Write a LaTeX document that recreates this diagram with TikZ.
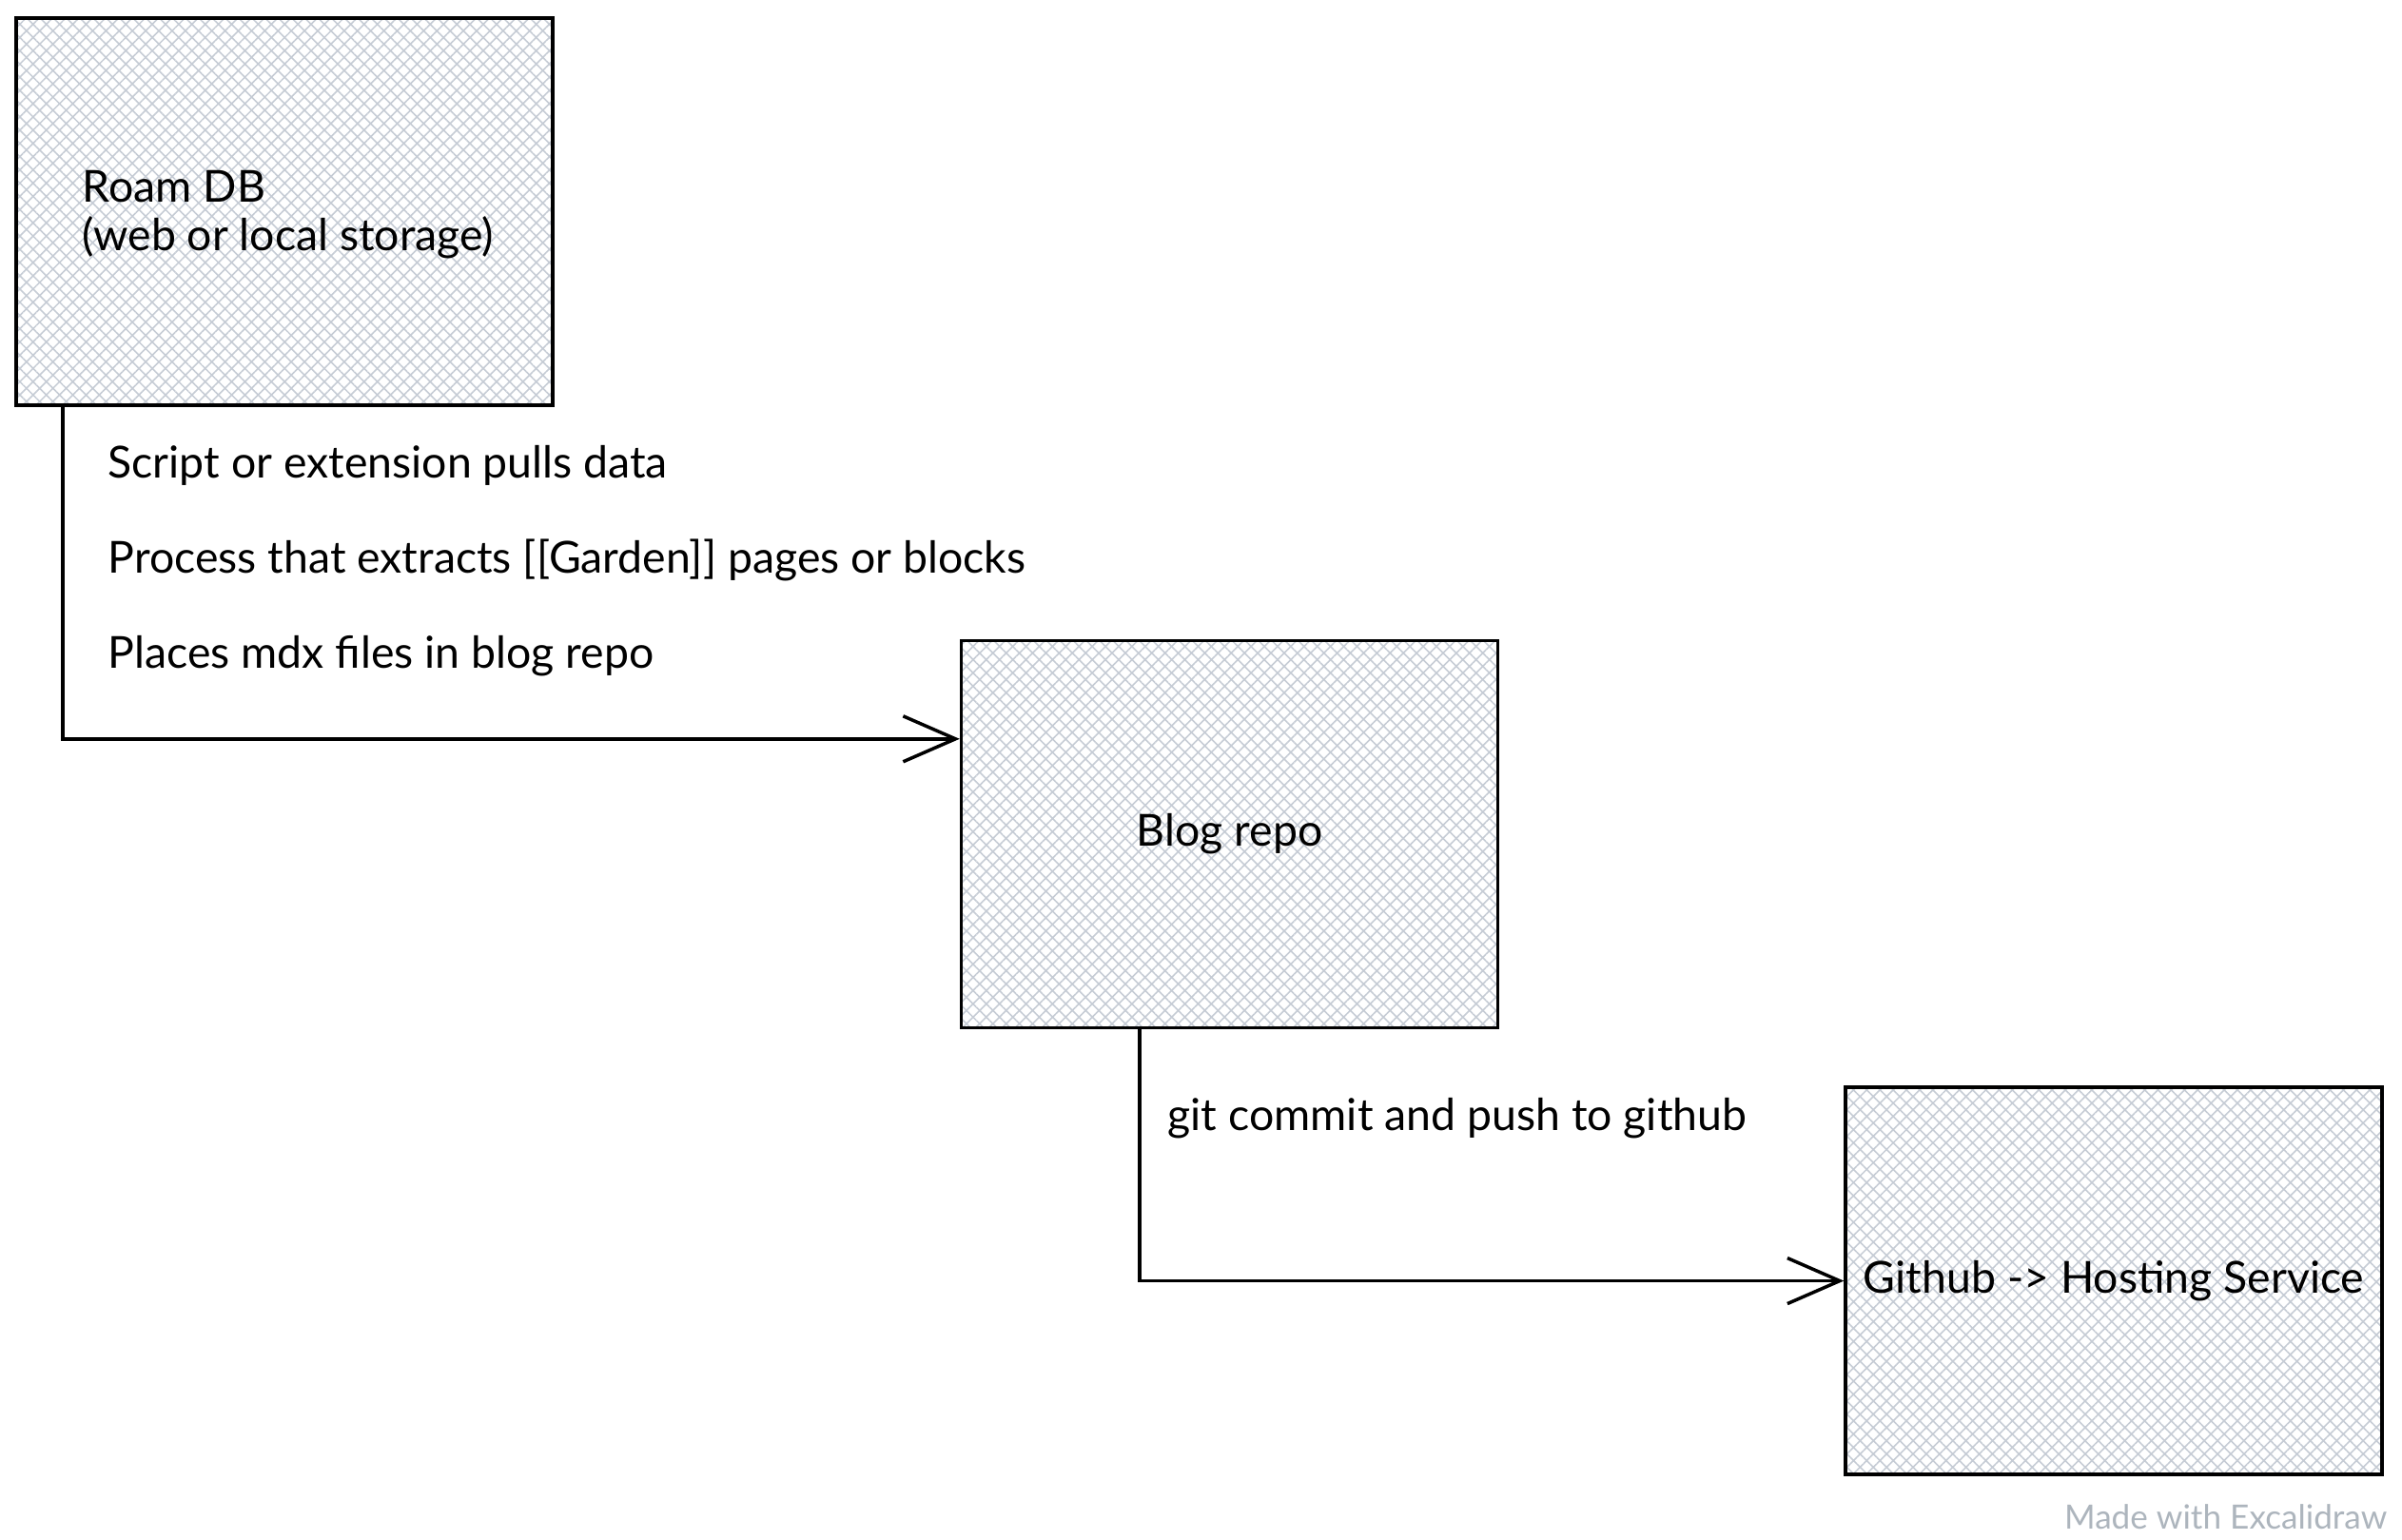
\documentclass[tikz,border=0pt]{standalone}
\usepackage{fontspec}
\setmainfont{Lato}
\usetikzlibrary{positioning,arrows.meta,patterns.meta}
\definecolor{hatchgray}{HTML}{C6CCD5}
\definecolor{creditgray}{HTML}{ADB5BD}

\begin{document}
\begin{tikzpicture}[
  node distance=5mm and 5mm,
  store/.style={
    rectangle, draw, line width=1pt,
    minimum width=5.64cm, minimum height=4.07cm, inner sep=0pt,
    pattern={Hatch[angle=45,distance=2.8pt,line width=0.45pt]},
    pattern color=hatchgray, font=\fontsize{13.2}{15}\selectfont
  },
  lbl/.style={inner sep=0pt, align=left, font=\fontsize{13.2}{14.7}\selectfont},
  arr/.style={-{Straight Barb[length=5.5mm,width=4.8mm,line width=1pt]}, line width=1pt}
]
\useasboundingbox (0,0) rectangle (25.25,-16.19);

% Boxes
\node[store] (roam) at (2.99,-2.225) {};
\node[lbl, anchor=west] (roamtext) at ([xshift=7mm,yshift=-0.03cm]roam.west) {Roam DB\\(web or local storage)};
\node[store, below right=2.45cm and 4.27cm of roam] (blog) {Blog repo};
\node[store, below right=0.59cm and 3.62cm of blog] (host) {Github -> Hosting Service};

% Connectors
\draw[arr] ([xshift=5mm]roam.south west) |- ([yshift=-1.05cm]blog.north west);
\draw[arr] ([xshift=1.89cm]blog.south west) |- (host.west);

% Labels
\node[lbl, anchor=base west] (pull) at (1.13,-5.02) {Script or extension pulls data};
\node[lbl, anchor=base west] (extract) at (1.13,-6.02) {Process that extracts [[Garden]] pages or blocks};
\node[lbl, anchor=base west] (place) at (1.13,-7.02) {Places mdx files in blog repo};
\node[lbl, anchor=base west] (push) at (12.27,-11.88) {git commit and push to github};

\node[lbl, anchor=base east, text=creditgray, font=\fontsize{10}{12}\selectfont] (credit) at (25.10,-16.07) {Made with Excalidraw};
\end{tikzpicture}
\end{document}
